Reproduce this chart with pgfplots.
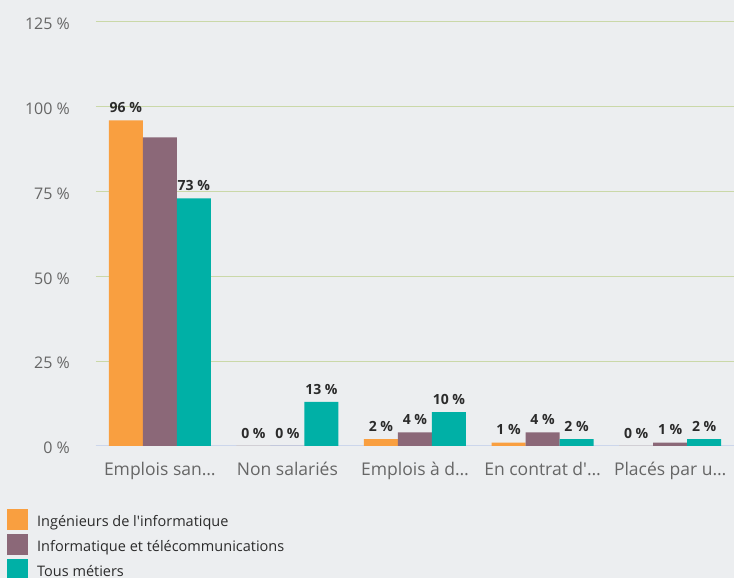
\documentclass[border=0pt]{standalone}
\usepackage{pgfplots}
\pgfplotsset{compat=1.18}
\usepackage{fontspec}
\setmainfont{Open Sans}[Ligatures=TeXOff]
\definecolor{bg}{HTML}{ECEEF0}
\definecolor{c1}{HTML}{F99F40}
\definecolor{c2}{HTML}{8B6878}
\definecolor{c3}{HTML}{00B0A6}
\definecolor{gridc}{HTML}{CAD8A8}
\definecolor{basec}{HTML}{CCD6EB}
\definecolor{tickc}{HTML}{666666}
\definecolor{labc}{HTML}{2B2B2B}
\begin{document}
\begin{tikzpicture}[x=1pt,y=1pt]
\path[use as bounding box, fill=bg] (0,0) rectangle (734,578);
\begin{axis}[
  at={(96pt,132pt)}, anchor=south west,
  scale only axis, width=638pt, height=424pt,
  xmin=-0.5, xmax=4.5, ymin=0, ymax=125,
  ybar=0pt, bar width=34pt,
  axis lines*=left,
  y axis line style={draw=none},
  x axis line style={draw=basec, line width=1pt},
  major tick length=0pt,
  ytick={0,25,50,75,100,125},
  yticklabel={\pgfmathprintnumber{\tick}~\%},
  yticklabel style={anchor=east, inner sep=0pt, xshift=-26pt, yshift=-2pt, text=tickc, font=\fontsize{16}{16}\selectfont},
  ymajorgrids, grid style={draw=gridc, line width=1pt},
  xtick={0,1,2,3,4},
  xticklabels={Emplois san\ldots, Non salariés, Emplois à d\ldots, En contrat d'\ldots, Placés par u\ldots},
  xticklabel style={anchor=north, inner sep=0pt, yshift=-16pt, text=tickc, font=\fontsize{17.5}{17.5}\selectfont},
  /pgf/number format/assume math mode=true,
  nodes near coords,
  point meta=explicit symbolic,
  every node near coord/.append style={font=\bfseries\fontsize{14}{14}\selectfont, text=labc, anchor=south, inner sep=0pt, yshift=7.5pt},
  legend style={at={(0,0)}, anchor=north west, xshift=-89pt, yshift=-63pt, draw=none, fill=none, inner sep=0pt, row sep=4pt, font=\fontsize{14.5}{14.5}\selectfont, text=labc, nodes={inner sep=0pt}, cells={anchor=base west}, /tikz/every odd column/.style={column sep=9pt}},
  legend image code/.code={\fill[#1, draw=none] (0pt,-3.5pt) rectangle (21pt,17.5pt);},
]
\addplot[fill=c1, draw=none] coordinates {(0,96)[96 \%] (1,0)[0 \%] (2,2)[2 \%] (3,1)[1 \%] (4,0)[0 \%]};
\addplot[fill=c2, draw=none] coordinates {(0,91)[] (1,0)[0 \%] (2,4)[4 \%] (3,4)[4 \%] (4,1)[1 \%]};
\addplot[fill=c3, draw=none] coordinates {(0,73)[73 \%] (1,13)[13 \%] (2,10)[10 \%] (3,2)[2 \%] (4,2)[2 \%]};
\legend{Ingénieurs de l'informatique, Informatique et télécommunications, Tous métiers}
\end{axis}
\end{tikzpicture}
\end{document}
